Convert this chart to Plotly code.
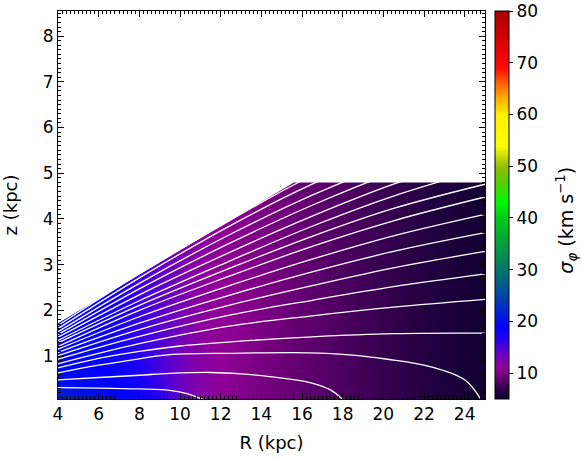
import plotly.graph_objects as go

# sigma_phi (km/s), rows = z, columns = R
sigma_R = [4, 5, 6, 7, 8, 9, 10, 11, 12, 13, 14, 15, 16, 18, 20, 22, 24, 25]
sigma_z = [0.06, 0.5, 1.5, 3.0, 4.8]
sigma_phi = [
    [22.0, 21.0, 20.0, 19.5, 18.5, 16.5, 14.0, 12.0, 11.0, 10.3, 9.7, 9.2, 8.8, 8.0, 7.2, 6.5, 5.8, 5.4],
    [20.0, 19.5, 19.5, 18.5, 17.5, 15.5, 13.5, 12.0, 11.0, 10.3, 9.7, 9.2, 8.8, 8.0, 7.2, 6.5, 5.8, 5.4],
    [19.0, 19.0, 18.5, 17.5, 16.0, 14.5, 13.0, 11.5, 11.0, 10.5, 9.8, 9.3, 8.8, 8.0, 7.2, 6.5, 5.8, 5.4],
    [18.5, 18.5, 18.0, 17.0, 15.5, 14.0, 12.5, 11.5, 11.0, 10.5, 10.0, 9.4, 8.9, 8.0, 7.2, 6.5, 5.8, 5.4],
    [18.5, 18.5, 18.0, 17.0, 15.5, 14.0, 12.5, 11.5, 11.0, 10.5, 10.0, 9.5, 9.0, 8.2, 7.4, 6.6, 5.9, 5.5],
]

# white contour lines, z (kpc) of each level at the given R (kpc)
low_lines_R = [
    [4, 6, 8, 9.5, 10.4, 11.1],
    [4, 6, 8, 9.5, 11.5, 13, 14.4, 16.4, 17.4, 18.0],
    [4, 6, 8, 9.5, 12.5, 16.3, 18.5, 20.2, 22.3, 24, 24.8],
    [4, 6, 8, 10, 12.5, 16.5, 20.5, 25],
]
low_lines_z = [
    [0.31, 0.30, 0.28, 0.25, 0.17, 0.05],
    [0.48, 0.53, 0.58, 0.62, 0.64, 0.61, 0.55, 0.42, 0.26, 0.05],
    [0.63, 0.80, 0.94, 1.03, 1.06, 1.07, 1.02, 0.93, 0.77, 0.48, 0.05],
    [0.74, 0.95, 1.10, 1.22, 1.31, 1.42, 1.49, 1.50],
]
up_lines_R = [4, 8, 12.5, 16.5, 20.5, 25]
up_lines_z = [
    [0.83, 1.27, 1.66, 1.88, 2.07, 2.24],
    [0.93, 1.43, 1.90, 2.22, 2.52, 2.80],
    [1.01, 1.58, 2.12, 2.54, 2.93, 3.29],
    [1.08, 1.72, 2.34, 2.84, 3.29, 3.70],
    [1.15, 1.86, 2.55, 3.12, 3.63, 4.10],
    [1.21, 2.00, 2.76, 3.40, 3.96, 4.48],
    [1.29, 2.11, 2.93, 3.62, 4.23, 4.76],
    [1.34, 2.21, 3.09, 3.84, 4.50, 5.10],
    [1.41, 2.34, 3.28, 4.06, 4.76, 5.40],
    [1.47, 2.47, 3.48, 4.30, 5.02, 5.70],
    [1.53, 2.59, 3.67, 4.52, 5.25, 6.00],
    [1.60, 2.71, 3.86, 4.76, 5.50, 6.30],
    [1.67, 2.80, 3.98, 4.95, 5.70, 6.60],
]

# upper edge of the region with data
mask_R = [4, 15.6, 25]
mask_z = [1.72, 4.8, 4.8]

cscale = [
    [0.0, 'rgb(10,0,45)'], [0.02, 'rgb(35,0,65)'], [0.04, 'rgb(75,0,95)'],
    [0.06, 'rgb(115,0,125)'], [0.08, 'rgb(145,0,150)'], [0.1, 'rgb(125,0,175)'],
    [0.127, 'rgb(85,0,210)'], [0.16, 'rgb(30,0,245)'], [0.187, 'rgb(0,0,255)'],
    [0.213, 'rgb(0,25,225)'], [0.267, 'rgb(0,70,165)'], [0.333, 'rgb(0,120,105)'],
    [0.4, 'rgb(0,160,60)'], [0.467, 'rgb(0,205,25)'], [0.507, 'rgb(0,250,0)'],
    [0.56, 'rgb(90,205,0)'], [0.6, 'rgb(150,190,0)'], [0.653, 'rgb(255,255,0)'],
    [0.733, 'rgb(255,240,0)'], [0.773, 'rgb(255,180,0)'], [0.813, 'rgb(255,100,0)'],
    [0.853, 'rgb(255,10,0)'], [0.933, 'rgb(210,0,0)'], [1.0, 'rgb(170,0,0)'],
]

FONT = 'DejaVu Sans'
fig = go.Figure()

fig.add_trace(go.Heatmap(
    x=sigma_R, y=sigma_z, z=sigma_phi, zmin=5, zmax=80.01, zsmooth='best',
    colorscale=cscale,
    colorbar=dict(x=1.0234, xanchor='left', xpad=0, ypad=0, y=0.5, len=1,
                  thickness=14, outlinewidth=1, outlinecolor='black',
                  ticks='outside', ticklen=4, tickcolor='black', ticklabeloverflow='allow',
                  tickvals=[10, 20, 30, 40, 50, 60, 70, 80],
                  tickfont=dict(family=FONT, size=17, color='black'))))

for R, z in zip(low_lines_R, low_lines_z):
    fig.add_trace(go.Scatter(x=R, y=z, mode='lines', line=dict(color='white', width=1.3, shape='spline'),
                             showlegend=False, hoverinfo='skip'))
for z in up_lines_z:
    fig.add_trace(go.Scatter(x=up_lines_R, y=z, mode='lines', line=dict(color='white', width=1.3, shape='spline'),
                             showlegend=False, hoverinfo='skip'))

# white out everything above the data edge
slope = (mask_z[1] - mask_z[0]) / (mask_R[1] - mask_R[0])
mx = [mask_R[0] - 0.5] + mask_R + [mask_R[-1] + 0.5, mask_R[-1] + 0.5, mask_R[0] - 0.5]
my = [mask_z[0] - 0.5 * slope] + mask_z + [mask_z[-1], 10, 10]
fig.add_trace(go.Scatter(x=mx, y=my, fill='toself', fillcolor='white', mode='lines',
                         line=dict(width=0, color='white'), showlegend=False, hoverinfo='skip'))

axis_common = dict(showline=True, linecolor='black', linewidth=1, mirror='allticks',
                   ticks='inside', ticklen=6, tickcolor='black', showgrid=False, zeroline=False,
                   tickfont=dict(family=FONT, size=17, color='black'))
fig.update_xaxes(range=[4, 25], dtick=2, minor=dict(dtick=0.2, ticks='inside', ticklen=3, tickcolor='black'),
                 title=dict(text='R (kpc)', font=dict(family=FONT, size=18, color='black'), standoff=12),
                 **axis_common)
fig.update_yaxes(range=[0.06, 8.55], dtick=1, minor=dict(dtick=0.1, ticks='inside', ticklen=3, tickcolor='black'),
                 title=dict(text='z (kpc)', font=dict(family=FONT, size=18, color='black'), standoff=22),
                 **axis_common)

fig.add_annotation(text='<i>σ<sub>φ</sub></i> (km s<sup>−1</sup>)', textangle=-90,
                   xref='paper', yref='paper', x=1.19, y=0.46, xanchor='center', yanchor='middle',
                   showarrow=False, font=dict(family=FONT, size=19, color='black'))

fig.update_layout(width=582, height=459, margin=dict(l=58, r=97, t=11, b=60, autoexpand=False),
                  plot_bgcolor='white', paper_bgcolor='white', showlegend=False)

# drop the browser's default 8 px page margin so the figure sits at the window corner
fig.write_html("out.html", config={'displayModeBar': False},
               post_script="document.body.style.margin = '0px';")
